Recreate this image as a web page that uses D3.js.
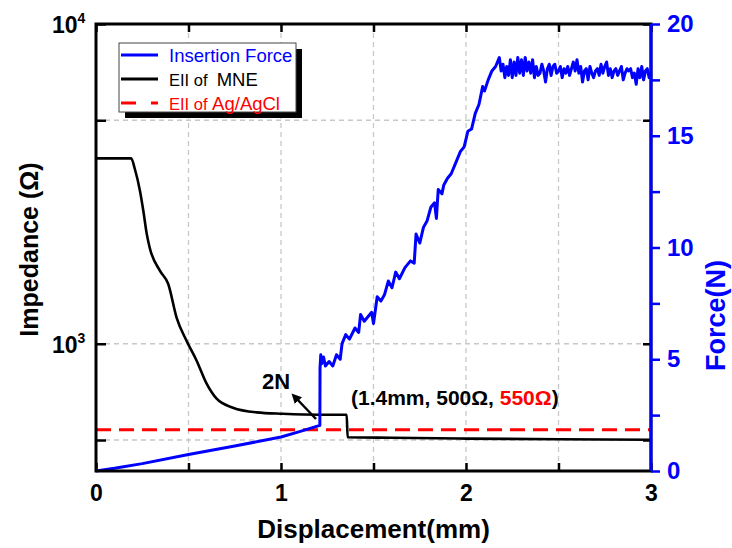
<!DOCTYPE html>
<html>
<head>
<meta charset="utf-8">
<script src="https://cdn.jsdelivr.net/npm/d3@7"></script>
<style>
  body { margin: 0; background: #fff; }
  svg { font-family: "Liberation Sans", Arial, sans-serif; }
</style>
</head>
<body>
<div id="vis"></div>
<script>
const FRAME_WIDTH = 732;
const FRAME_HEIGHT = 548;
const MARGINS = {left: 96, right: 81, top: 24, bottom: 77};

// impedance of MNE (black)
const mneDisp = [0, 0.19, 0.21, 0.238, 0.256, 0.274, 0.29, 0.346, 0.39, 0.436, 0.49, 0.544,
                 0.598, 0.652, 0.74, 0.868, 1.01, 1.21, 1.355, 1.36, 1.6, 2.0, 2.5, 3.0];
const mneOhm = [3800, 3800, 3520, 3000, 2600, 2210, 2000, 1690, 1540, 1205, 1020, 885,
                750, 673, 631, 610, 604, 600, 600, 510, 508, 505, 503, 501];

// impedance of Ag/AgCl (red dashed)
const agDisp = [0, 3];
const agOhm = [538, 538];

// insertion force (blue)
const forceDisp = [0, 0.1, 0.25, 0.5, 0.75, 1.0, 1.1, 1.21,
  1.211, 1.215, 1.22, 1.23, 1.24, 1.26, 1.28, 1.30, 1.32, 1.33, 1.35, 1.37, 1.40, 1.42,
  1.43, 1.45, 1.47, 1.49, 1.50, 1.52, 1.54, 1.56, 1.58, 1.60, 1.62, 1.64, 1.67, 1.70,
  1.72, 1.73, 1.75, 1.77, 1.79, 1.81, 1.83, 1.84, 1.85, 1.87, 1.88, 1.90, 1.92, 1.95,
  1.97, 1.99, 2.01, 2.03, 2.05, 2.07, 2.09, 2.10, 2.12, 2.14, 2.16, 2.18, 2.19, 2.20,
  2.21, 2.22, 2.23, 2.24, 2.25, 2.26, 2.27, 2.28, 2.29, 2.30, 2.31, 2.32, 2.33, 2.34,
  2.35, 2.36, 2.37, 2.38, 2.39, 2.40, 2.41, 2.42, 2.43, 2.44, 2.45, 2.46, 2.47, 2.48,
  2.49, 2.50, 2.51, 2.52, 2.53, 2.54, 2.55, 2.56, 2.57, 2.58, 2.59, 2.60, 2.61, 2.62,
  2.63, 2.64, 2.65, 2.66, 2.67, 2.68, 2.69, 2.70, 2.71, 2.72, 2.73, 2.74, 2.75, 2.76,
  2.77, 2.78, 2.79, 2.80, 2.81, 2.82, 2.83, 2.84, 2.85, 2.86, 2.87, 2.88, 2.89, 2.90,
  2.91, 2.92, 2.93, 2.94, 2.95, 2.96, 2.97, 2.98, 2.99, 3.0];
const forceN = [0, 0.12, 0.33, 0.74, 1.12, 1.52, 1.76, 2.04,
  4.6, 5.2, 4.8, 5.1, 4.7, 4.9, 4.7, 5.2, 5.0, 5.7, 6.1, 5.9, 6.4, 6.2,
  7.0, 6.7, 6.9, 7.1, 6.6, 7.8, 7.6, 7.9, 8.5, 8.2, 8.9, 8.6, 9.1, 9.4,
  9.3, 10.6, 10.2, 10.9, 11.2, 11.8, 12.0, 11.3, 12.6, 12.4, 12.8, 13.1, 13.3, 13.9,
  14.3, 14.5, 15.2, 15.3, 16.0, 16.4, 17.2, 17.0, 17.5, 17.9, 18.1, 18.5, 17.9, 18.2,
  17.6, 18.1, 17.7, 18.4, 17.6, 18.3, 17.7, 18.5, 17.8, 18.4, 17.7, 18.5, 17.9, 18.3,
  17.8, 18.4, 17.6, 18.1, 17.7, 17.8, 18.2, 17.9, 17.4, 18.0, 18.2, 17.7, 18.1, 18.2,
  17.8, 17.9, 18.1, 17.6, 18.0, 17.8, 18.1, 17.7, 18.0, 18.3, 17.9, 18.4, 17.8, 18.1,
  17.4, 17.9, 18.0, 17.5, 18.1, 17.8, 17.6, 17.9, 18.0, 17.7, 18.2, 17.8, 18.1, 18.3,
  17.7, 18.0, 17.6, 17.9, 18.0, 17.7, 17.9, 18.1, 17.5, 17.8, 18.0, 17.9, 18.0, 17.6,
  17.8, 17.3, 18.0, 17.6, 18.1, 17.5, 17.9, 18.0, 17.6, 17.8];

const xTicks = [0, 1, 2, 3];
const xMinor = [0.5, 1.5, 2.5];
const yMajor = [1000, 10000];
const yMinor = [500, 5000];
const fTicks = [0, 5, 10, 15, 20];
const fMinor = [2.5, 7.5, 12.5, 17.5];

const VIS_WIDTH = FRAME_WIDTH - MARGINS.left - MARGINS.right;
const VIS_HEIGHT = FRAME_HEIGHT - MARGINS.top - MARGINS.bottom;

const svg = d3.select("#vis").append("svg")
    .attr("width", FRAME_WIDTH)
    .attr("height", FRAME_HEIGHT);

const g = svg.append("g")
    .attr("transform", "translate(" + MARGINS.left + "," + MARGINS.top + ")");

const X = d3.scaleLinear().domain([0, 3]).range([0, VIS_WIDTH]);
const Y = d3.scaleLog().domain([400, 10000]).range([VIS_HEIGHT, 0]);
const F = d3.scaleLinear().domain([0, 20]).range([VIS_HEIGHT, 0]);

// grid
const grid = g.append("g").attr("stroke", "#c8c8c8").attr("stroke-width", 1.3)
    .attr("stroke-dasharray", "5,4");
grid.selectAll(".vg").data(xMinor.concat([1, 2])).enter().append("line")
    .attr("x1", d => X(d)).attr("x2", d => X(d)).attr("y1", 0).attr("y2", VIS_HEIGHT);
grid.selectAll(".hg").data([500, 1000, 5000]).enter().append("line")
    .attr("y1", d => Y(d)).attr("y2", d => Y(d)).attr("x1", 0).attr("x2", VIS_WIDTH);

// data lines
const lineOhm = d3.line().x(d => X(d[0])).y(d => Y(d[1]));
const lineF = d3.line().x(d => X(d[0])).y(d => F(d[1]));

g.append("path").datum(agDisp.map((d, i) => [d, agOhm[i]]))
    .attr("d", lineOhm).attr("fill", "none").attr("stroke", "#ff0000")
    .attr("stroke-width", 3).attr("stroke-dasharray", "15,8");

g.append("path").datum(mneDisp.map((d, i) => [d, mneOhm[i]]))
    .attr("d", lineOhm.curve(d3.curveMonotoneX)).attr("fill", "none").attr("stroke", "#000")
    .attr("stroke-width", 2.6).attr("stroke-linejoin", "round");

g.append("path").datum(forceDisp.map((d, i) => [d, forceN[i]]))
    .attr("d", lineF).attr("fill", "none").attr("stroke", "#0000ff")
    .attr("stroke-width", 3).attr("stroke-linejoin", "round");

// frame
g.append("rect").attr("width", VIS_WIDTH).attr("height", VIS_HEIGHT)
    .attr("fill", "none").attr("stroke", "#000").attr("stroke-width", 3);

// axes
const axisStyle = (sel, color) => {
  sel.attr("font-family", null);
  sel.select(".domain").remove();
  sel.selectAll("line").attr("stroke", color).attr("stroke-width", 2.5);
  sel.selectAll("text").attr("fill", color).attr("font-weight", "bold");
};

g.append("g").attr("transform", "translate(0," + VIS_HEIGHT + ")")
    .call(d3.axisBottom(X).tickValues(xTicks.concat(xMinor)).tickSize(-8).tickPadding(14)
      .tickFormat(d => xTicks.includes(d) ? d3.format("d")(d) : ""))
    .attr("font-size", 23)
    .call(s => axisStyle(s, "#000"));

g.append("g")
    .call(d3.axisTop(X).tickValues(xTicks.concat(xMinor)).tickSize(-8).tickFormat(""))
    .call(s => axisStyle(s, "#000"));

const leftAxis = g.append("g")
    .call(d3.axisLeft(Y).tickValues(yMajor.concat(yMinor)).tickSize(-10).tickPadding(14)
      .tickFormat(""))
    .call(s => axisStyle(s, "#000"));

leftAxis.selectAll(".tick").filter(d => yMajor.includes(d)).append("text")
    .attr("x", -44).attr("dy", "0.36em").attr("text-anchor", "start")
    .attr("fill", "#000").attr("font-size", 23).attr("font-weight", "bold")
    .text("10")
    .append("tspan").attr("dy", "-0.7em").attr("font-size", 14)
    .text(d => Math.round(Math.log10(d)));

g.append("g").attr("transform", "translate(" + VIS_WIDTH + ",0)")
    .call(d3.axisLeft(Y).tickValues(yMajor.concat(yMinor)).tickSize(8).tickFormat(""))
    .call(s => axisStyle(s, "#000"));

const rightAxis = g.append("g").attr("transform", "translate(" + VIS_WIDTH + ",0)")
    .call(d3.axisRight(F).tickValues(fTicks.concat(fMinor)).tickSize(9).tickPadding(7)
      .tickFormat(d => fTicks.includes(d) ? d : ""))
    .attr("font-size", 24).attr("font-family", null);
rightAxis.select(".domain").attr("stroke", "#0000ff").attr("stroke-width", 3)
    .attr("d", "M0,0V" + VIS_HEIGHT);
rightAxis.selectAll("line").attr("stroke", "#0000ff").attr("stroke-width", 2.5);
rightAxis.selectAll("text").attr("fill", "#0000ff").attr("font-weight", "bold");

// axis titles
svg.append("text")
    .attr("transform", "translate(38," + (MARGINS.top + VIS_HEIGHT / 2 + 2) + ") rotate(-90)")
    .attr("text-anchor", "middle").attr("font-size", 25).attr("font-weight", "bold")
    .text("Impedance (Ω)");

svg.append("text")
    .attr("transform", "translate(725," + (MARGINS.top + VIS_HEIGHT / 2 + 68) + ") rotate(-90)")
    .attr("text-anchor", "middle").attr("font-size", 27).attr("font-weight", "bold")
    .attr("fill", "#0000ff")
    .text("Force(N)");

svg.append("text")
    .attr("x", MARGINS.left + VIS_WIDTH / 2).attr("y", 538)
    .attr("text-anchor", "middle").attr("font-size", 26).attr("font-weight", "bold")
    .text("Displacement(mm)");

// legend
const leg = svg.append("g").attr("transform", "translate(119,43)");
leg.append("rect").attr("x", 6).attr("y", 6).attr("width", 177).attr("height", 69).attr("fill", "#000");
leg.append("rect").attr("width", 177).attr("height", 69).attr("fill", "#fff")
    .attr("stroke", "#444").attr("stroke-width", 1);

const legItems = [
  {color: "#0000ff", dash: null, parts: [["Insertion Force", 18.5]]},
  {color: "#000", dash: null, parts: [["EII of  ", 16.5], ["MNE", 18.5]]},
  {color: "#ff0000", dash: "15,15", parts: [["EII of ", 16.5], ["Ag/AgCl", 18.5]]}
];
legItems.forEach((it, i) => {
  const yy = 12 + i * 24;
  leg.append("line").attr("x1", 2).attr("x2", 39).attr("y1", yy).attr("y2", yy)
      .attr("stroke", it.color).attr("stroke-width", 3)
      .attr("stroke-dasharray", it.dash);
  const t = leg.append("text").attr("x", 50).attr("y", yy + 7).attr("fill", it.color)
      .attr("xml:space", "preserve").style("white-space", "pre");
  it.parts.forEach(p => t.append("tspan").attr("font-size", p[1]).text(p[0]));
});

// annotations
svg.append("defs").append("marker").attr("id", "arr")
    .attr("viewBox", "0 0 10 10").attr("refX", 5).attr("refY", 5)
    .attr("markerWidth", 4).attr("markerHeight", 4).attr("orient", "auto")
    .append("path").attr("d", "M0,0L10,5L0,10z").attr("fill", "#000");

svg.append("line").attr("x1", 316).attr("y1", 419).attr("x2", 295).attr("y2", 397)
    .attr("stroke", "#000").attr("stroke-width", 2.5).attr("marker-end", "url(#arr)");

svg.append("text").attr("x", 262).attr("y", 389).attr("font-size", 22)
    .attr("font-weight", "bold").text("2N");

const ann = svg.append("text").attr("x", 351).attr("y", 405).attr("font-size", 21)
    .attr("font-weight", "bold");
ann.append("tspan").text("(1.4mm, 500Ω, ");
ann.append("tspan").attr("fill", "#ff0000").text("550Ω");
ann.append("tspan").text(")");
</script>
</body>
</html>
